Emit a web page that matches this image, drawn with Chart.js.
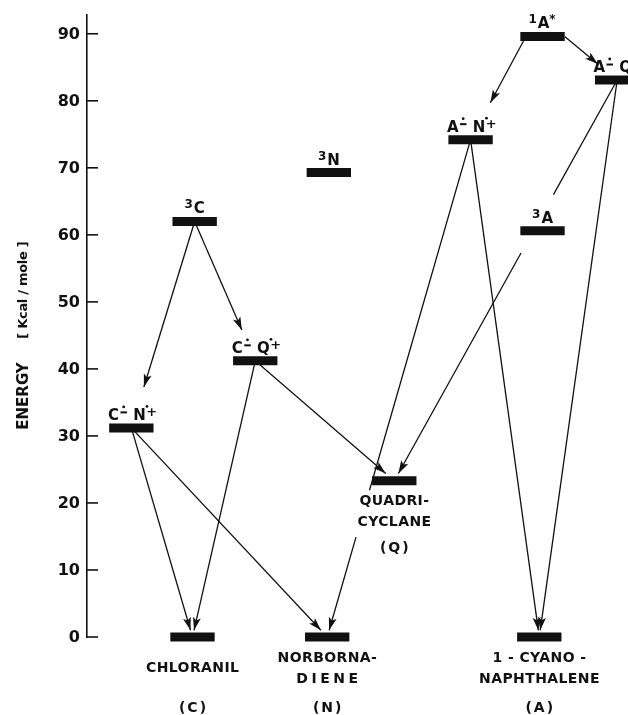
<!DOCTYPE html>
<html>
<head>
<meta charset="utf-8">
<script src="https://cdn.jsdelivr.net/npm/chart.js@4.4.1/dist/chart.umd.min.js"></script>
<style>
    html, body { margin: 0; padding: 0; background: #fff; }
    canvas { display: block; }
</style>
</head>
<body>
<canvas id="energy_chart" width="628" height="715"></canvas>
<script>
// Energy level diagram, chloranil / norbornadiene / 1-cyanonaphthalene

// levels: column position (0-100 across the plot) and energy in kcal/mole
var levelNames = ["3C", "C-N+", "C-Q+", "3N", "Q", "A-N+", "3A", "1A*", "A-Q+", "C", "N", "A"];
var levelColumn = [19.9, 8.2, 31.1, 44.7, 56.8, 70.9, 84.2, 84.2, 98.0, 19.5, 44.4, 83.6];
var levelEnergy = [62, 31.2, 41.2, 69.3, 23.3, 74.2, 60.6, 89.6, 83.1, 0, 0, 0];

// text over each level (sup = superscript, an = radical anion, cat = radical cation)
var levelLabels = [
    [["sup", "3"], ["n", "C"]],
    [["n", "C"], ["an"], ["n", " N"], ["cat"]],
    [["n", "C"], ["an"], ["n", " Q"], ["cat"]],
    [["sup", "3"], ["n", "N"]],
    null,
    [["n", "A"], ["an"], ["n", " N"], ["cat"]],
    [["sup", "3"], ["n", "A"]],
    [["sup", "1"], ["n", "A"], ["sup", "*"]],
    [["n", "A"], ["an"], ["n", " Q"], ["cat"]],
    null, null, null
];

// names under the ground states (and quadricyclane)
var nameLevel = [9, 10, 11, 4];
var nameLines = [["CHLORANIL"], ["NORBORNA-", "DIENE"], ["1 - CYANO -", "NAPHTHALENE"], ["QUADRI-", "CYCLANE"]];
var nameTags = ["(C)", "(N)", "(A)", "(Q)"];

// transitions: from level, to level, energy where the arrow tip stops
var arrowFrom = [0, 0, 7, 7, 1, 1, 2, 2, 5, 5, 8, 8];
var arrowTo   = [1, 2, 5, 8, 9, 10, 9, 4, 10, 11, 4, 11];
var arrowTip  = [37.3, 45.8, 79.7, 85.5, 1, 1, 1, 24.4, 1, 1, 24.4, 1];
var arrowSide = [0, 0, -0.75, 1, 0, 0, 0, 0, 0, 0, 0, 0]; // where on the source bar it leaves
// energy range where a line is broken (crossing other labels)
var arrowGapTop = [null, null, null, null, null, null, null, null, 21.9, null, 66, null];
var arrowGapBot = [null, null, null, null, null, null, null, null, 14.9, null, 57.3, null];

var yTicks = [0, 10, 20, 30, 40, 50, 60, 70, 80, 90];
var yTickLabels = ["0", "10", "20", "30", "40", "50", "60", "70", "80", "90"];

var ink = "#111";
var barHalf = 4.1;
var FONT = '"DejaVu Sans", sans-serif';
var wideText = { "DIENE": 3.5, "(C)": 2, "(N)": 2, "(A)": 2, "(Q)": 2 };

function arrowPoints(i) {
    var f = arrowFrom[i], t = arrowTo[i];
    var x0 = levelColumn[f] + arrowSide[i] * barHalf, e0 = levelEnergy[f];
    var x1 = levelColumn[t], e1 = levelEnergy[t];
    var at = function (e) { return x0 + (e0 - e) / (e0 - e1) * (x1 - x0); };
    var pts = [{ x: x0, y: e0 }];
    if (arrowGapTop[i] !== null) {
        pts.push({ x: at(arrowGapTop[i]), y: arrowGapTop[i] });
        pts.push({ x: at(arrowGapTop[i]), y: null });
        pts.push({ x: at(arrowGapBot[i]), y: arrowGapBot[i] });
    }
    pts.push({ x: at(arrowTip[i]), y: arrowTip[i] });
    return pts;
}

var datasets = [];
levelNames.forEach(function (name, i) {
    datasets.push({
        label: name,
        data: [
            { x: levelColumn[i] - barHalf, y: levelEnergy[i] },
            { x: levelColumn[i] + barHalf, y: levelEnergy[i] },
        ],
        showLine: true,
        borderColor: ink,
        borderWidth: 9,
        borderCapStyle: "butt",
        pointRadius: 0,
        clip: false,
    });
});
arrowFrom.forEach(function (f, i) {
    datasets.push({
        label: levelNames[f] + " > " + levelNames[arrowTo[i]],
        data: arrowPoints(i),
        showLine: true,
        spanGaps: false,
        borderColor: ink,
        borderWidth: 1.3,
        pointRadius: 0,
        clip: false,
    });
});

function spacedText(ctx, text, x, y, spacing) {
    ctx.letterSpacing = spacing + "px";
    ctx.fillText(text, x + spacing / 2, y);
    ctx.letterSpacing = "0px";
}

function drawRich(ctx, parts, cx, base) {
    var mainFont = "bold 15px " + FONT, supFont = "bold 12px " + FONT;
    var widths = parts.map(function (p) {
        if (p[0] == "n") { ctx.font = mainFont; return ctx.measureText(p[1]).width; }
        if (p[0] == "sup") { ctx.font = supFont; return ctx.measureText(p[1]).width + 1; }
        return 9;
    });
    var total = widths.reduce(function (a, b) { return a + b; }, 0);
    var x = cx - total / 2;
    ctx.textAlign = "left";
    ctx.textBaseline = "alphabetic";
    parts.forEach(function (p, i) {
        if (p[0] == "n") {
            ctx.font = mainFont;
            ctx.fillText(p[1], x, base);
        } else if (p[0] == "sup") {
            ctx.font = supFont;
            ctx.fillText(p[1], x, base - 5);
        } else if (p[0] == "an") {
            ctx.fillRect(x + 1.5, base - 8.5, 6.5, 2);
            ctx.beginPath(); ctx.arc(x + 4.7, base - 13, 1.4, 0, Math.PI * 2); ctx.fill();
        } else if (p[0] == "cat") {
            ctx.font = "bold 13px " + FONT;
            ctx.fillText("+", x + 0.5, base - 4);
            ctx.beginPath(); ctx.arc(x + 1.2, base - 13.5, 1.4, 0, Math.PI * 2); ctx.fill();
        }
        x += widths[i];
    });
}

const diagramPlugin = {
    id: "diagram",
    afterDatasetsDraw(chart) {
        const ctx = chart.ctx;
        const xs = chart.scales.x, ys = chart.scales.y;
        const px = (v) => xs.getPixelForValue(v), py = (v) => ys.getPixelForValue(v);
        const axisX = chart.chartArea.left;
        ctx.save();
        ctx.fillStyle = ink;
        ctx.strokeStyle = ink;

        // ticks point into the plot
        ctx.lineWidth = 1.6;
        ctx.font = "bold 16px " + FONT;
        ctx.textAlign = "right";
        ctx.textBaseline = "middle";
        yTicks.forEach((v, i) => {
            const yy = py(v);
            ctx.beginPath();
            ctx.moveTo(axisX - 0.8, yy);
            ctx.lineTo(axisX + 11, yy);
            ctx.stroke();
            ctx.fillText(yTickLabels[i], axisX - 7, yy + 1);
        });

        // axis title
        ctx.save();
        ctx.translate(24, 335);
        ctx.rotate(-Math.PI / 2);
        ctx.textAlign = "center";
        ctx.textBaseline = "middle";
        ctx.font = "bold 15px " + FONT;
        ctx.fillText("ENERGY", -61, 0);
        ctx.font = "bold 13px " + FONT;
        spacedText(ctx, "[ Kcal / mole ]", 45, 0, -0.3);
        ctx.restore();

        // arrow heads
        arrowFrom.forEach((f, i) => {
            const pts = arrowPoints(i);
            const a = pts[pts.length - 2], b = pts[pts.length - 1];
            const ax = px(a.x), ay = py(a.y), bx = px(b.x), by = py(b.y);
            const len = Math.hypot(bx - ax, by - ay);
            const dx = (bx - ax) / len, dy = (by - ay) / len;
            const L = 13, W = 4;
            ctx.beginPath();
            ctx.moveTo(bx, by);
            ctx.lineTo(bx - dx * L - dy * W, by - dy * L + dx * W);
            ctx.lineTo(bx - dx * L * 0.78, by - dy * L * 0.78);
            ctx.lineTo(bx - dx * L + dy * W, by - dy * L - dx * W);
            ctx.closePath();
            ctx.fill();
        });

        // labels over the levels
        levelLabels.forEach((parts, i) => {
            if (!parts) return;
            drawRich(ctx, parts, px(levelColumn[i]), py(levelEnergy[i]) - 8);
        });

        // names under the levels
        ctx.textAlign = "center";
        ctx.textBaseline = "middle";
        ctx.font = "bold 14px " + FONT;
        const sp = (t) => (wideText[t] !== undefined ? wideText[t] : 0.4);
        nameLevel.forEach((lv, i) => {
            const cx = px(levelColumn[lv]), cy = py(levelEnergy[lv]);
            const lines = nameLines[i];
            if (lines.length == 1) {
                spacedText(ctx, lines[0], cx, cy + 31, sp(lines[0]));
            } else {
                spacedText(ctx, lines[0], cx, cy + 21, sp(lines[0]));
                spacedText(ctx, lines[1], cx, cy + 42, sp(lines[1]));
            }
            spacedText(ctx, nameTags[i], cx, cy + (lv == 4 ? 68 : 71), sp(nameTags[i]));
        });
        ctx.restore();
    },
};

new Chart("energy_chart", {
    type: "scatter",
    data: { datasets: datasets },
    options: {
        responsive: false,
        animation: false,
        events: [],
        layout: { padding: { left: 0, right: 0, top: 15, bottom: 78 } },
        plugins: {
            legend: { display: false },
            tooltip: { enabled: false },
        },
        scales: {
            x: { type: "linear", min: 0, max: 100, display: false },
            y: {
                type: "linear",
                min: 0,
                max: 92.8,
                grid: { display: false },
                border: { display: true, color: ink, width: 1.6 },
                ticks: { display: false },
                title: { display: false },
                afterFit: function (scale) { scale.width = 87; },
            },
        },
    },
    plugins: [diagramPlugin],
});
</script>
</body>
</html>
